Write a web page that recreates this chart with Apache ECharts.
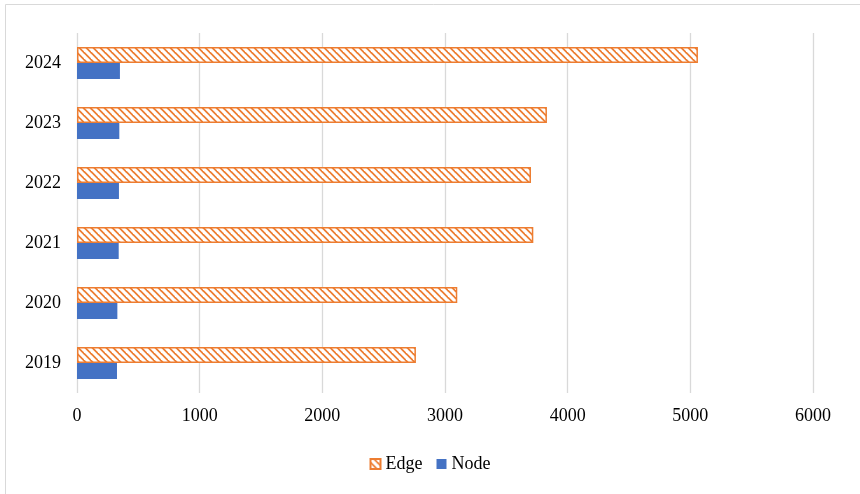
<!DOCTYPE html>
<html><head><meta charset="utf-8">
<script src="https://cdn.jsdelivr.net/npm/echarts@6/dist/echarts.min.js"></script>
<style>html,body{margin:0;padding:0;background:#fff}#c{width:860px;height:494px}</style>
</head><body><div id="c"></div>
<script>
const categories = ['2019','2020','2021','2022','2023','2024'];
const edgeValues = [2763, 3100, 3720, 3701, 3831, 5062];
const nodeValues = [326, 329, 340, 342, 345, 350];
const xTicks = [0, 1000, 2000, 3000, 4000, 5000, 6000];

function stripePattern() {
  const N = 7;
  const cv = document.createElement('canvas');
  cv.width = N; cv.height = N;
  const g = cv.getContext('2d');
  g.fillStyle = '#ED7D31';
  g.fillRect(0, 0, N, N);
  g.strokeStyle = '#ffffff';
  g.lineWidth = 3.2;
  for (let k = -1; k <= 1; k++) {
    g.beginPath();
    g.moveTo(k * N - 1, -1);
    g.lineTo(k * N + N + 1, N + 1);
    g.stroke();
  }
  return cv;
}

const chart = echarts.init(document.getElementById('c'), null, {renderer: 'canvas'});
const font = '"Liberation Serif", "Times New Roman", serif';
chart.setOption({
  animation: false,
  backgroundColor: '#fff',
  textStyle: {fontFamily: font},
  graphic: [{
    type: 'rect', silent: true, z: -1,
    shape: {x: 5.5, y: 4.5, width: 900, height: 600},
    style: {fill: 'none', stroke: '#d9d9d9', lineWidth: 1}
  }],
  grid: {left: 77, right: 47, top: 33, bottom: 101, containLabel: false},
  legend: {
    top: 450, left: 'center',
    data: ['Edge', 'Node'],
    itemWidth: 10, itemHeight: 10, itemGap: 14,
    textStyle: {fontFamily: font, fontSize: 18, color: '#000', padding: [0, 0, 0, 0]},
    icon: 'rect'
  },
  xAxis: {
    type: 'value', min: xTicks[0], max: xTicks[xTicks.length - 1], interval: 1000,
    axisLine: {show: false}, axisTick: {show: false},
    axisLabel: {fontFamily: font, fontSize: 18, color: '#000', margin: 14, formatter: v => String(v)},
    splitLine: {show: true, lineStyle: {color: '#d9d9d9', width: 1.3}}
  },
  yAxis: {
    type: 'category', data: categories,
    axisLine: {show: false}, axisTick: {show: false},
    axisLabel: {fontFamily: font, fontSize: 18, color: '#000', margin: 16}
  },
  series: [
    {
      name: 'Edge', type: 'bar', data: edgeValues,
      barGap: '0%', barCategoryGap: '46.7%',
      itemStyle: {color: {image: stripePattern(), repeat: 'repeat'}, borderColor: '#ED7D31', borderWidth: 1.5}
    },
    {
      name: 'Node', type: 'bar', data: nodeValues,
      barGap: '0%', barCategoryGap: '46.7%',
      itemStyle: {color: '#4472C4'}
    }
  ]
});
</script></body></html>
